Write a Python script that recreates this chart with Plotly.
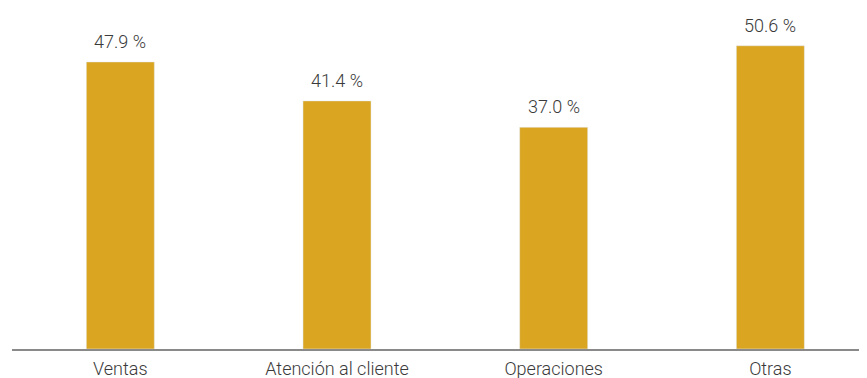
import plotly.graph_objects as go

categorias = ["Ventas", "Atención al cliente", "Operaciones", "Otras"]
valores = [47.9, 41.4, 37.0, 50.6]
etiquetas = [f"{v:.1f} %" for v in valores]

fig = go.Figure()
fig.add_trace(go.Bar(
    x=categorias, y=valores,
    marker_color="#DAA520", width=0.314,
    hoverinfo="skip",
))

for c, v, t in zip(categorias, valores, etiquetas):
    fig.add_annotation(x=c, y=v, text=t, showarrow=False, yanchor="bottom",
                       yshift=8, font=dict(family="Roboto", size=18, color="#3a3a3a", weight=300))

fig.update_layout(
    width=859, height=370,
    margin=dict(l=4, r=0, t=0, b=29),
    paper_bgcolor="white", plot_bgcolor="white",
    showlegend=False,
    font=dict(family="Roboto", size=18, color="#3a3a3a", weight=300),
)
fig.update_xaxes(range=[-0.5, 3.446], showline=True, linecolor="#8a8a8a", linewidth=1.5,
                 ticks="outside", ticklen=3, tickcolor="rgba(0,0,0,0)", showgrid=False)
fig.update_yaxes(range=[0, 56.9], visible=False, showgrid=False)

fig.write_html("out.html")
